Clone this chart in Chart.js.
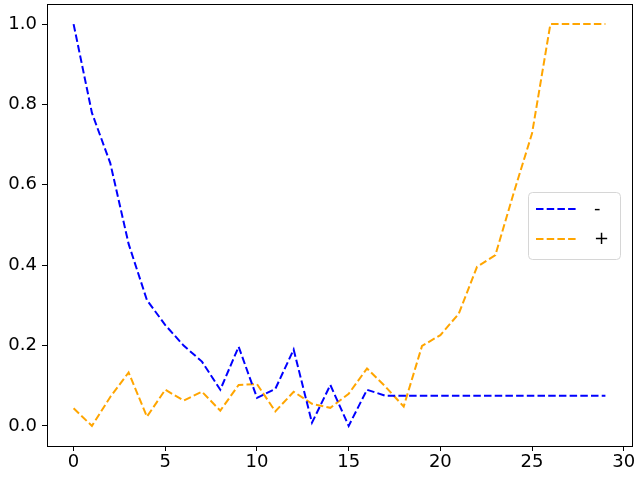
<!DOCTYPE html>
<html>
<head>
<meta charset="utf-8">
<script src="https://cdn.jsdelivr.net/npm/chart.js@4"></script>
<style>
  html, body { margin: 0; padding: 0; background: #fff; }
  #wrap { width: 640px; height: 480px; }
</style>
</head>
<body>
<div id="wrap"><canvas id="chart" width="640" height="480"></canvas></div>
<script>
const steps = Array.from({ length: 30 }, (_, i) => i);
const minusValues = [1.0, 0.779, 0.654, 0.453, 0.313, 0.251, 0.2, 0.16, 0.09, 0.197,
  0.07, 0.092, 0.19, 0.008, 0.102, 0.0, 0.09, 0.075, 0.075, 0.075,
  0.075, 0.075, 0.075, 0.075, 0.075, 0.075, 0.075, 0.075, 0.075, 0.075];
const plusValues = [0.044, 0.0, 0.072, 0.133, 0.023, 0.09, 0.063, 0.085, 0.038, 0.102,
  0.104, 0.036, 0.085, 0.055, 0.045, 0.08, 0.143, 0.098, 0.048, 0.199,
  0.226, 0.279, 0.396, 0.425, 0.58, 0.728, 1.0, 1.0, 1.0, 1.0];
const seriesLabels = ["-", "+"];
const xTicks = [0, 5, 10, 15, 20, 25, 30];
const yTicks = [0.0, 0.2, 0.4, 0.6, 0.8, 1.0];

const FONT = "'DejaVu Sans', sans-serif";
const DASH = [7.5, 3.2];

const framePlugin = {
    id: "frame",
    afterDraw(chart) {
        const { ctx, chartArea } = chart;
        ctx.save();
        ctx.strokeStyle = "#000";
        ctx.lineWidth = 1;
        ctx.strokeRect(chartArea.left + 0.5, chartArea.top + 0.5,
            chartArea.right - chartArea.left, chartArea.bottom - chartArea.top);
        ctx.restore();
    },
};

const legendPlugin = {
    id: "boxLegend",
    afterDraw(chart) {
        const { ctx } = chart;
        const x = 528, y = 192, w = 92, h = 67;
        ctx.save();
        ctx.fillStyle = "rgba(255,255,255,0.8)";
        ctx.strokeStyle = "#d6d6d6";
        ctx.lineWidth = 1;
        ctx.beginPath();
        ctx.roundRect(x + 0.5, y + 0.5, w, h, 4);
        ctx.fill();
        ctx.stroke();
        ctx.font = "18px " + FONT;
        ctx.textBaseline = "middle";
        ctx.fillStyle = "#000";
        chart.data.datasets.forEach((ds, i) => {
            const ly = 209 + i * 30;
            ctx.strokeStyle = ds.borderColor;
            ctx.lineWidth = 2;
            ctx.setLineDash(DASH);
            ctx.beginPath();
            ctx.moveTo(536, ly);
            ctx.lineTo(578, ly);
            ctx.stroke();
            ctx.setLineDash([]);
            ctx.fillText(ds.label, 594, ly);
        });
        ctx.restore();
    },
};

new Chart(document.getElementById("chart"), {
    type: "line",
    data: {
        labels: steps,
        datasets: [
            {
                label: seriesLabels[0],
                data: steps.map((s, i) => ({ x: s, y: minusValues[i] })),
                borderColor: "#0000ff",
                borderWidth: 2,
                borderDash: DASH,
                pointRadius: 0,
                fill: false,
                tension: 0,
            },
            {
                label: seriesLabels[1],
                data: steps.map((s, i) => ({ x: s, y: plusValues[i] })),
                borderColor: "#ffa500",
                borderWidth: 2,
                borderDash: DASH,
                pointRadius: 0,
                fill: false,
                tension: 0,
            },
        ],
    },
    options: {
        responsive: false,
        animation: false,
        layout: { padding: { top: 4, right: 8, left: 0, bottom: 0 } },
        plugins: {
            legend: { display: false },
            tooltip: { enabled: false },
        },
        scales: {
            x: {
                type: "linear",
                min: -1.45,
                max: 30.45,
                afterBuildTicks: (scale) => {
                    scale.ticks = xTicks.map((v) => ({ value: v }));
                },
                afterFit: (scale) => {
                    scale.height = 34;
                    scale.paddingLeft = 0;
                    scale.paddingRight = 0;
                },
                ticks: {
                    color: "#000",
                    font: { family: FONT, size: 18 },
                    padding: 1,
                    maxRotation: 0,
                    callback: (v) => String(v),
                },
                grid: {
                    drawOnChartArea: false,
                    drawTicks: true,
                    tickLength: 5,
                    color: "#000",
                },
                border: { display: true, color: "#000" },
            },
            y: {
                type: "linear",
                min: -0.05,
                max: 1.05,
                afterBuildTicks: (scale) => {
                    scale.ticks = yTicks.map((v) => ({ value: v }));
                },
                afterFit: (scale) => {
                    scale.width = 47;
                    scale.paddingTop = 0;
                    scale.paddingBottom = 0;
                },
                ticks: {
                    color: "#000",
                    font: { family: FONT, size: 18 },
                    padding: 5,
                    callback: (v) => Number(v).toFixed(1),
                },
                grid: {
                    drawOnChartArea: false,
                    drawTicks: true,
                    tickLength: 5,
                    color: "#000",
                },
                border: { display: true, color: "#000" },
            },
        },
    },
    plugins: [framePlugin, legendPlugin],
});
</script>
</body>
</html>
